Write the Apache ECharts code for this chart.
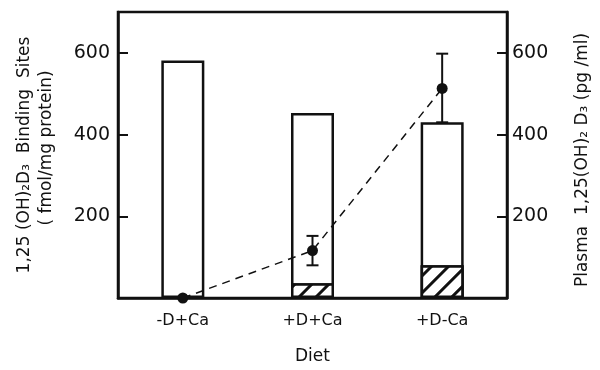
<!DOCTYPE html>
<html>
<head>
<meta charset="utf-8">
<script src="https://cdn.jsdelivr.net/npm/echarts@6/dist/echarts.min.js"></script>
<style>
  html, body { margin: 0; padding: 0; background: #fff; }
  #chart { width: 600px; height: 370px; }
</style>
</head>
<body>
<div id="chart"></div>
<script>
// diet groups
const diets = ["-D+Ca", "+D+Ca", "+D-Ca"];
// binding sites (fmol/mg protein), whole bar and hatched part
const bindingTotal = [581, 453, 430];
const bindingHatched = [null, 36, 80];
// plasma 1,25(OH)2D3 (pg/ml), mean and error range
const plasmaMean = [0, 116, 513];
const plasmaLow = [null, 80, 430];
const plasmaHigh = [null, 152, 598];
const tickValues = [200, 400, 600];

const font = "DejaVu Sans";
const black = "#111";

let chartDom = document.getElementById("chart");
let myChart = echarts.init(chartDom);

const errData = diets
  .map((d, i) => [i, plasmaLow[i], plasmaHigh[i]])
  .filter((d) => d[1] != null);

let option = {
  animation: false,
  grid: {
    left: 118,
    right: 93,
    top: 12,
    bottom: 66,
    show: true,
    borderColor: black,
    borderWidth: 2.5,
  },
  xAxis: {
    type: "category",
    data: diets,
    name: "Diet",
    nameLocation: "middle",
    nameGap: 50,
    nameTextStyle: { fontFamily: font, fontSize: 17, color: black },
    axisLine: { lineStyle: { color: black, width: 2.5 } },
    axisTick: { show: false },
    axisLabel: { fontFamily: font, fontSize: 16, color: black, margin: 15 },
  },
  yAxis: [
    {
      type: "value",
      min: 0,
      max: 700,
      position: "left",
      axisLine: { show: true, lineStyle: { color: black, width: 2.5 } },
      axisTick: { show: true, inside: true, length: 10, customValues: tickValues, lineStyle: { width: 2 } },
      axisLabel: { customValues: tickValues, fontFamily: font, fontSize: 19, color: black, margin: 8 },
      splitLine: { show: false },
    },
    {
      type: "value",
      min: 0,
      max: 700,
      position: "right",
      axisLine: { show: true, lineStyle: { color: black, width: 2.5 } },
      axisTick: { show: true, inside: true, length: 10, customValues: tickValues, lineStyle: { width: 2 } },
      axisLabel: { customValues: tickValues, fontFamily: font, fontSize: 19, color: black, margin: 5 },
      splitLine: { show: false },
    },
  ],
  graphic: [
    {
      type: "text",
      x: 25,
      y: 155,
      rotation: Math.PI / 2,
      style: {
        text: "1,25 (OH)\u2082D\u2083  Binding  Sites",
        font: "17px " + font,
        fill: black,
        align: "center",
        verticalAlign: "middle",
      },
    },
    {
      type: "text",
      x: 47,
      y: 148,
      rotation: Math.PI / 2,
      style: {
        text: "( fmol/mg protein)",
        font: "17px " + font,
        fill: black,
        align: "center",
        verticalAlign: "middle",
      },
    },
    {
      type: "text",
      x: 583,
      y: 160,
      rotation: Math.PI / 2,
      style: {
        text: "Plasma  1,25(OH)\u2082 D\u2083 (pg /ml)",
        font: "17px " + font,
        fill: black,
        align: "center",
        verticalAlign: "middle",
      },
    },
  ],
  series: [
    {
      name: "binding",
      type: "bar",
      data: bindingTotal,
      barWidth: 43,
      barGap: "-100%",
      itemStyle: { color: "#fff", borderColor: black, borderWidth: 2.5 },
      z: 2,
    },
    {
      name: "hatched",
      type: "bar",
      data: bindingHatched,
      barWidth: 43,
      itemStyle: {
        color: "#fff",
        borderColor: black,
        borderWidth: 2.5,
        decal: {
          symbol: "rect",
          symbolSize: 1,
          color: black,
          backgroundColor: "#fff",
          dashArrayX: [1, 0],
          dashArrayY: [2.5, 9],
          rotation: -Math.PI / 4,
        },
      },
      z: 3,
    },
    {
      name: "plasma",
      type: "line",
      yAxisIndex: 1,
      data: plasmaMean,
      symbol: "circle",
      symbolSize: 11,
      itemStyle: { color: black },
      lineStyle: { color: black, width: 1.5, type: [8, 6] },
      z: 5,
    },
    {
      name: "plasmaErr",
      type: "custom",
      yAxisIndex: 1,
      data: errData,
      z: 4,
      renderItem: (params, api) => {
        const lo = api.coord([api.value(0), api.value(1)]);
        const hi = api.coord([api.value(0), api.value(2)]);
        const w = 6;
        const style = { stroke: black, lineWidth: 2 };
        return {
          type: "group",
          children: [
            { type: "line", shape: { x1: lo[0], y1: lo[1], x2: hi[0], y2: hi[1] }, style },
            { type: "line", shape: { x1: hi[0] - w, y1: hi[1], x2: hi[0] + w, y2: hi[1] }, style },
            { type: "line", shape: { x1: lo[0] - w, y1: lo[1], x2: lo[0] + w, y2: lo[1] }, style },
          ],
        };
      },
    },
  ],
};

option && myChart.setOption(option);
</script>
</body>
</html>
